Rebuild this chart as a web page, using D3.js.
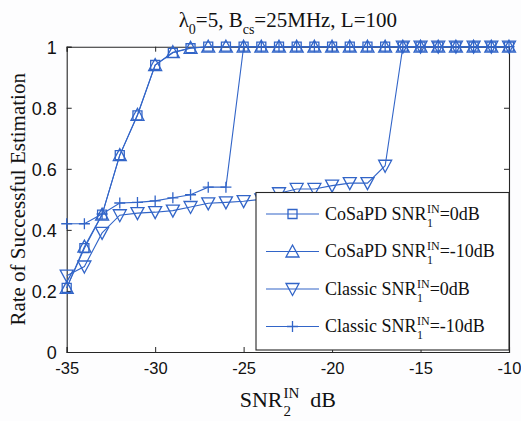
<!DOCTYPE html>
<html><head><meta charset="utf-8">
<script src="https://cdn.jsdelivr.net/npm/d3@7"></script>
<style>body{margin:0;background:#fdfdfe} text{white-space:pre}</style>
</head><body><svg id="chart" width="521" height="421"></svg>
<script>
// ---- data ----
const snr2 = [-35,-34,-33,-32,-31,-30,-29,-28,-27,-26,-25,-24,-23,-22,-21,-20,-19,-18,-17,-16,-15,-14,-13,-12,-11,-10];
const cosapd0  = [0.21,0.34,0.45,0.645,0.775,0.94,0.98,0.995,1,1,1,1,1,1,1,1,1,1,1,1,1,1,1,1,1,1];
const cosapd10 = [0.21,0.345,0.45,0.645,0.777,0.94,0.982,0.996,1,1,1,1,1,1,1,1,1,1,1,1,1,1,1,1,1,1];
const classic0 = [0.25,0.28,0.39,0.448,0.455,0.458,0.463,0.475,0.487,0.49,0.494,0.50,0.52,0.534,0.534,0.545,0.553,0.553,0.61,1,1,1,1,1,1,1];
const classic10 = [0.42,0.42,0.452,0.488,0.49,0.495,0.505,0.515,0.54,0.54,1,1,1,1,1,1,1,1,1,1,1,1,1,1,1,1];
const seriesMethods = ["CoSaPD","CoSaPD","Classic","Classic"];
const seriesSnr1 = ["=0dB","=-10dB","=0dB","=-10dB"];
const seriesMarkers = ["square","triangleUp","triangleDown","plus"];
const xTicks = [-35,-30,-25,-20,-15,-10];
const yTicks = [0,0.2,0.4,0.6,0.8,1];
const yTickLabels = ["0","0.2","0.4","0.6","0.8","1"];

(function(){
// ---- layout ----
const W = 521, H = 421;
const pL = 66.7, pR = 509, pT = 46.7, pB = 352;
const blue = "#3265c8";
const axisColor = "#262626";
const serif = "'Liberation Serif','Times New Roman',serif";
const sans = "'Liberation Sans',Arial,sans-serif";

const svg = d3.select("#chart");
svg.append("rect").attr("width",W).attr("height",H).attr("fill","#fdfdfe");

const x = d3.scaleLinear().domain([-35,-10]).range([pL,pR]);
const y = d3.scaleLinear().domain([0,1]).range([pB,pT]);

svg.append("rect").attr("x",pL).attr("y",pT).attr("width",pR-pL).attr("height",pB-pT).attr("fill","#ffffff");

const tl = 5;
const gB = svg.append("g").attr("transform",`translate(0,${pB})`)
  .call(d3.axisBottom(x).tickValues(xTicks).tickSize(-tl).tickPadding(10).tickFormat(d=>d));
const gT = svg.append("g").attr("transform",`translate(0,${pT})`)
  .call(d3.axisTop(x).tickValues(xTicks).tickSize(-tl).tickFormat(""));
const gL = svg.append("g").attr("transform",`translate(${pL},0)`)
  .call(d3.axisLeft(y).tickValues(yTicks).tickSize(-tl).tickPadding(10).tickFormat((d,i)=>yTickLabels[i]));
const gR = svg.append("g").attr("transform",`translate(${pR},0)`)
  .call(d3.axisRight(y).tickValues(yTicks).tickSize(-tl).tickFormat(""));
[gB,gT,gL,gR].forEach(g=>{
  g.select(".domain").attr("stroke",axisColor).attr("stroke-width",1.1);
  g.selectAll(".tick line").attr("stroke",axisColor).attr("stroke-width",1);
  g.selectAll(".tick text").attr("font-family",sans).attr("font-size",18).attr("fill","#111");
});
gB.selectAll(".tick text").attr("font-size",16.5).attr("dy","0.75em");
gL.selectAll(".tick text").attr("dy","0.36em");

function markerPath(type){
  switch(type){
    case "square": return "M-4.5,-4.5H4.5V4.5H-4.5Z";
    case "triangleUp": return "M0,-6.5L6.5,5.5H-6.5Z";
    case "triangleDown": return "M0,6.5L6.5,-5.5H-6.5Z";
    case "plus": return "M-5.5,0H5.5M0,-5.5V5.5";
  }
}

const seriesData = [cosapd0, cosapd10, classic0, classic10];
const line = d3.line().x((d,i)=>x(snr2[i])).y(d=>y(d));
seriesData.forEach((vals,si)=>{
  const g = svg.append("g");
  g.append("path").datum(vals).attr("d",line).attr("fill","none").attr("stroke",blue).attr("stroke-width",1.1);
  g.selectAll("path.m").data(vals).enter().append("path").attr("class","m")
    .attr("d",markerPath(seriesMarkers[si]))
    .attr("transform",(d,i)=>`translate(${x(snr2[i])},${y(d)})`)
    .attr("fill","none").attr("stroke",blue).attr("stroke-width",1.3);
});

function rich(parent, cx, by, segs, opt){
  const g = parent.append("g");
  let pos = 0;
  segs.forEach(s=>{
    if (s.t !== undefined){
      const el = g.append("text").attr("x",pos).attr("y",0).attr("font-family",opt.family).attr("font-size",opt.size).attr("fill",opt.fill||"#111").text(s.t);
      pos += el.node().getComputedTextLength();
    } else {
      let w = 0;
      const dx = opt.subDx||0;
      if (s.sub){
        const el = g.append("text").attr("x",pos+dx).attr("y",opt.subDy).attr("font-family",opt.family).attr("font-size",opt.small).attr("fill",opt.fill||"#111").text(s.sub);
        w = Math.max(w, el.node().getComputedTextLength()+dx);
      }
      if (s.sup){
        const el = g.append("text").attr("x",pos+dx).attr("y",opt.supDy).attr("font-family",opt.family).attr("font-size",opt.small).attr("fill",opt.fill||"#111").text(s.sup);
        w = Math.max(w, el.node().getComputedTextLength()+dx);
      }
      pos += w;
    }
  });
  let x0 = cx;
  if (opt.anchor === "middle") x0 = cx - pos/2;
  g.attr("transform", `translate(${x0},${by})`);
  return g;
}

rich(svg, (pL+pR)/2, 27, [{t:"λ"},{sub:"0"},{t:"=5, B"},{sub:"cs"},{t:"=25MHz, L=100"}],
  {family:serif,size:21,small:14,subDy:7,supDy:-8,anchor:"middle"});

rich(svg, (pL+pR)/2, 406.5, [{t:"SNR"},{sub:"2",sup:"IN"},{t:"  dB"}],
  {family:serif,size:22,small:15,subDy:9,supDy:-9,subDx:1,anchor:"middle"});

svg.append("text").attr("transform",`translate(25,${(pT+pB)/2}) rotate(-90)`)
  .attr("text-anchor","middle").attr("font-family",serif).attr("font-size",21).attr("fill","#111")
  .text("Rate of Successful Estimation");

const lg = svg.append("g");
const lx0 = 256, ly0 = 192.5, lx1 = pR, ly1 = 350;
lg.append("rect").attr("x",lx0).attr("y",ly0).attr("width",lx1-lx0).attr("height",ly1-ly0)
  .attr("fill","#ffffff").attr("stroke",axisColor).attr("stroke-width",1.1);
const rowY = d3.scalePoint().domain(d3.range(4)).range([214,326.5]);
d3.range(4).forEach(i=>{
  const yy = rowY(i);
  lg.append("line").attr("x1",266).attr("x2",319).attr("y1",yy).attr("y2",yy).attr("stroke",blue).attr("stroke-width",1.1);
  lg.append("path").attr("d",markerPath(seriesMarkers[i])).attr("transform",`translate(292.5,${yy})`)
    .attr("fill","none").attr("stroke",blue).attr("stroke-width",1.3);
  rich(lg, 325, yy+5.5, [{t:seriesMethods[i]+" SNR"},{sub:"1",sup:"IN"},{t:seriesSnr1[i]}],
    {family:serif,size:18,small:12,subDy:7,supDy:-7,subDx:0.5});
});
})();
</script>
</body></html>
